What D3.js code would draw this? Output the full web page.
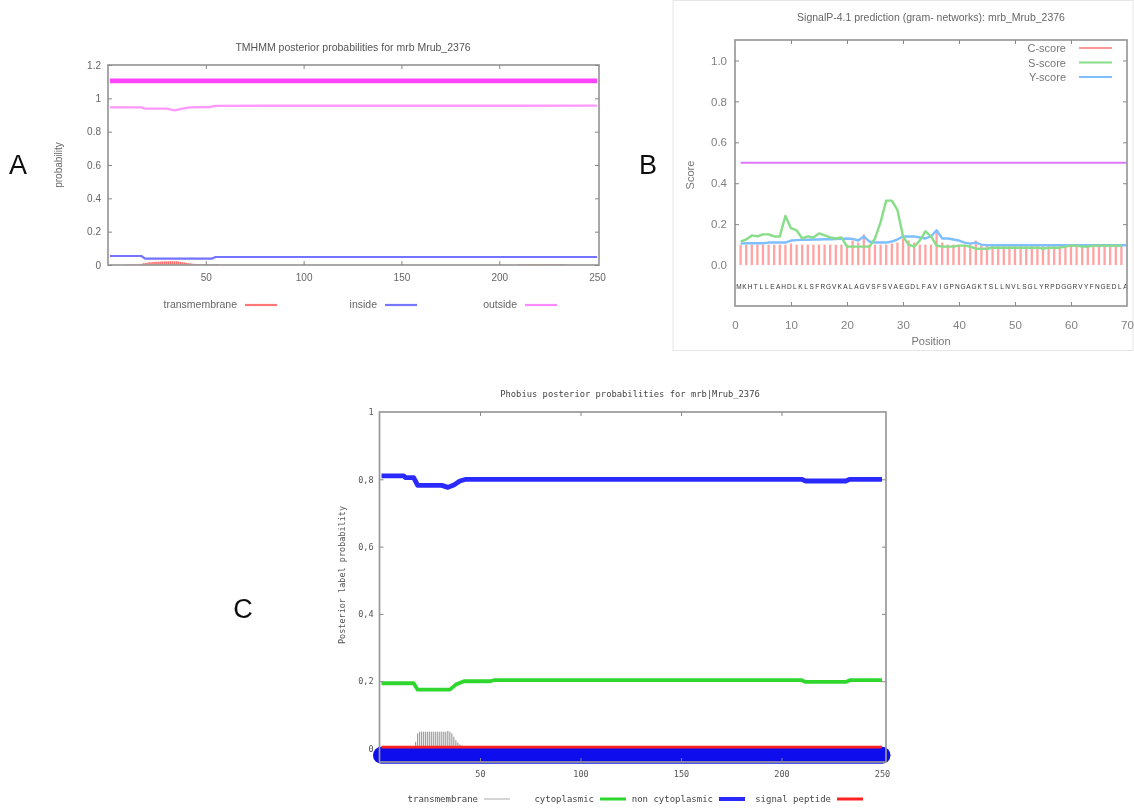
<!DOCTYPE html>
<html>
<head>
<meta charset="utf-8">
<script src="https://cdn.jsdelivr.net/npm/d3@7"></script>
<style>
body { margin: 0; background: #fff; }
svg { display: block; }
</style>
</head>
<body>
<svg width="1134" height="809"></svg>
<script>
// ---- panel A : TMHMM ----
var tmXTicks = [50, 100, 150, 200, 250];
var tmYTicks = [0, 0.2, 0.4, 0.6, 0.8, 1, 1.2];
var tmTopology = [[1, 1.105], [250, 1.105]];
var tmOutside = [[1, 0.946], [17, 0.946], [19, 0.938], [30, 0.938], [34, 0.928], [38, 0.938], [42, 0.946], [52, 0.948], [55, 0.955], [250, 0.956]];
var tmInside = [[1, 0.054], [17, 0.054], [19, 0.038], [53, 0.038], [55, 0.048], [250, 0.048]];
var tmTransStart = 10;
var tmTransVals = [0.003, 0.003, 0.003, 0.003, 0.003, 0.003, 0.003, 0.003,
  0.01, 0.012, 0.014, 0.016, 0.017,
  0.018, 0.019, 0.02, 0.02, 0.021, 0.021,
  0.022, 0.022, 0.022, 0.023, 0.023, 0.022, 0.022, 0.021,
  0.019, 0.017, 0.015, 0.013, 0.011, 0.01,
  0.008, 0.007, 0.006, 0.006, 0.005, 0.005,
  0.004, 0.004, 0.004, 0.004, 0.004, 0.004, 0.004, 0.004];
var tmTransStart2 = 210;
var tmTransVals2 = [0.004, 0.004, 0.004, 0.004, 0.004, 0.004, 0.004, 0.004, 0.004, 0.004, 0.004, 0.004, 0.004,
  0.004, 0.004, 0.004, 0.004, 0.004, 0.004, 0.004, 0.004, 0.004, 0.004, 0.004, 0.004];
var tmLegend = ["transmembrane", "inside", "outside"];

// ---- panel B : SignalP ----
var spXTicks = [0, 10, 20, 30, 40, 50, 60, 70];
var spYTicks = [0, 0.2, 0.4, 0.6, 0.8, 1.0];
var spSequence = "MKHTLLEAHDLKLSFRGVKALAGVSFSVAEGDLFAVIGPNGAGKTSLLNVLSGLYRPDGGRVYFNGEDLA";
var spCScore = [0.098, 0.1, 0.1, 0.1, 0.1, 0.1, 0.1, 0.1, 0.1, 0.105,
  0.1, 0.1, 0.1, 0.1, 0.1, 0.1, 0.1, 0.1, 0.1, 0.1,
  0.12, 0.11, 0.15, 0.1, 0.1, 0.1, 0.1, 0.105, 0.11, 0.13,
  0.12, 0.11, 0.1, 0.1, 0.1, 0.17, 0.11, 0.1, 0.1, 0.1,
  0.1, 0.1, 0.12, 0.1, 0.095, 0.095, 0.095, 0.095, 0.095, 0.095,
  0.095, 0.095, 0.095, 0.095, 0.095, 0.095, 0.095, 0.095, 0.095, 0.1,
  0.1, 0.095, 0.095, 0.095, 0.095, 0.095, 0.095, 0.095, 0.095];
var spSScore = [0.115, 0.125, 0.145, 0.14, 0.15, 0.15, 0.14, 0.14, 0.24, 0.18,
  0.17, 0.13, 0.14, 0.135, 0.155, 0.145, 0.135, 0.13, 0.135, 0.09,
  0.09, 0.09, 0.09, 0.09, 0.13, 0.21, 0.315, 0.315, 0.27, 0.14,
  0.1, 0.09, 0.12, 0.165, 0.14, 0.095, 0.09, 0.09, 0.09, 0.095,
  0.095, 0.09, 0.08, 0.08, 0.08, 0.085, 0.085, 0.085, 0.085, 0.085,
  0.085, 0.085, 0.085, 0.085, 0.08, 0.085, 0.085, 0.085, 0.09, 0.095,
  0.095, 0.09, 0.09, 0.095, 0.095, 0.095, 0.095, 0.095, 0.095];
var spYScore = [0.105, 0.107, 0.107, 0.107, 0.107, 0.11, 0.11, 0.11, 0.11, 0.12,
  0.122, 0.123, 0.124, 0.125, 0.125, 0.126, 0.126, 0.127, 0.128, 0.13,
  0.128, 0.12, 0.14, 0.115, 0.11, 0.11, 0.11, 0.115, 0.125, 0.14,
  0.14, 0.14, 0.135, 0.13, 0.14, 0.17, 0.13, 0.13, 0.125, 0.12,
  0.11, 0.105, 0.11, 0.1, 0.097, 0.097, 0.097, 0.097, 0.097, 0.097,
  0.097, 0.097, 0.097, 0.097, 0.097, 0.097, 0.097, 0.097, 0.097, 0.097,
  0.097, 0.097, 0.097, 0.097, 0.097, 0.097, 0.097, 0.097, 0.097, 0.097];
var spCutoff = [[1, 0.5], [70, 0.5]];
var spLegend = ["C-score", "S-score", "Y-score"];

// ---- panel C : Phobius ----
var phXTicks = [50, 100, 150, 200, 250];
var phYTicks = [0, 0.2, 0.4, 0.6, 0.8, 1];
var phNonCyto = [[1, 0.81], [12, 0.81], [13, 0.805], [17, 0.805], [19, 0.782], [31, 0.782], [34, 0.776], [37, 0.783], [40, 0.795], [43, 0.8], [210, 0.8], [212, 0.795], [232, 0.795], [234, 0.8], [250, 0.8]];
var phCyto = [[1, 0.194], [17, 0.194], [19, 0.175], [35, 0.175], [38, 0.19], [42, 0.2], [55, 0.2], [57, 0.203], [210, 0.203], [212, 0.198], [232, 0.198], [234, 0.203], [250, 0.203]];
var phSignal = [[1, 0.004], [250, 0.004]];
var phTopology = [[1, -0.02], [250, -0.02]];
var phTransStart = 17;
var phTransVals = [0.005, 0.02, 0.045,
  0.05, 0.05, 0.05, 0.05, 0.05, 0.05, 0.05, 0.05, 0.05, 0.05, 0.05, 0.05, 0.05, 0.05,
  0.052, 0.05, 0.045, 0.035, 0.025, 0.018, 0.012, 0.009, 0.007, 0.006, 0.005,
  0.004, 0.004, 0.004, 0.004, 0.004, 0.004, 0.004, 0.004, 0.004, 0.004, 0.004, 0.004];
var phTransStart2 = 210;
var phTransVals2 = [0.005, 0.005, 0.005, 0.005, 0.005, 0.005, 0.005, 0.005, 0.005, 0.005, 0.005, 0.005,
  0.005, 0.005, 0.005, 0.005, 0.005, 0.005, 0.005, 0.005, 0.005, 0.005, 0.005];
var phLegend = ["transmembrane", "cytoplasmic", "non cytoplasmic", "signal peptide"];

var svg = d3.select("svg");
svg.append("defs").append("filter").attr("id", "soft")
  .append("feGaussianBlur").attr("stdDeviation", 0.55);
var root = svg.append("g").attr("filter", "url(#soft)");

var sans = "'Liberation Sans', Arial, sans-serif";
var mono = "'DejaVu Sans Mono', 'Liberation Mono', monospace";

function styleAxis(sel, font, size, color) {
  sel.select(".domain").remove();
  sel.selectAll("line").attr("stroke", "#888");
  sel.selectAll("text").style("font-family", font).style("font-size", size + "px").attr("fill", color);
}

// draws box + ticks on all four sides
function frame(g, x, y, o) {
  var x0 = x.range()[0], x1 = x.range()[1], y0 = y.range()[0], y1 = y.range()[1];
  g.append("rect").attr("x", x0).attr("y", y1).attr("width", x1 - x0).attr("height", y0 - y1)
    .attr("fill", "none").attr("stroke", "#999").attr("stroke-width", 1.7);
  g.append("g").attr("transform", "translate(0," + y0 + ")")
    .call(d3.axisBottom(x).tickValues(o.xTicks).tickFormat(o.xFormat).tickSizeInner(-4).tickSizeOuter(0).tickPadding(o.xPad))
    .call(styleAxis, o.font, o.size, o.color);
  g.append("g").attr("transform", "translate(0," + y1 + ")")
    .call(d3.axisTop(x).tickValues(o.xMarks).tickFormat("").tickSizeInner(-4).tickSizeOuter(0))
    .call(styleAxis, o.font, o.size, o.color);
  g.append("g").attr("transform", "translate(" + x0 + ",0)")
    .call(d3.axisLeft(y).tickValues(o.yTicks).tickFormat(o.yFormat).tickSizeInner(-4).tickSizeOuter(0).tickPadding(o.yPad))
    .call(styleAxis, o.font, o.size, o.color);
  g.append("g").attr("transform", "translate(" + x1 + ",0)")
    .call(d3.axisRight(y).tickValues(o.yTicks).tickFormat("").tickSizeInner(-4).tickSizeOuter(0))
    .call(styleAxis, o.font, o.size, o.color);
  // hide the marks that sit on the corners
  g.selectAll(".tick line").filter(function (d) { return o.noMark && o.noMark.indexOf(d) >= 0; }).remove();
}

function drawLine(g, x, y, data, color, width, cap) {
  g.append("path").datum(data)
    .attr("fill", "none").attr("stroke", color).attr("stroke-width", width)
    .attr("stroke-linecap", cap || "butt").attr("stroke-linejoin", "round")
    .attr("d", d3.line().x(function (d) { return x(d[0]); }).y(function (d) { return y(d[1]); }));
}

function impulses(start, vals) {
  return vals.map(function (v, i) { return [start + i, v]; });
}

function drawImpulses(g, x, y, data, color, width) {
  g.selectAll(null).data(data).enter().append("line")
    .attr("x1", function (d) { return x(d[0]); }).attr("x2", function (d) { return x(d[0]); })
    .attr("y1", y(0)).attr("y2", function (d) { return y(d[1]); })
    .attr("stroke", color).attr("stroke-width", width);
}

// panel letters
[["A", 18, 174], ["B", 648, 174], ["C", 243, 618]].forEach(function (p) {
  root.append("text").attr("x", p[1]).attr("y", p[2]).attr("text-anchor", "middle")
    .style("font-family", sans).style("font-size", "27px").attr("fill", "#111").text(p[0]);
});

// ================= panel A =================
(function () {
  var g = root.append("g");
  var x = d3.scaleLinear().domain([0, 251]).range([108, 599]);
  var y = d3.scaleLinear().domain([0, 1.2]).range([265, 65]);

  drawImpulses(g, x, y, impulses(tmTransStart, tmTransVals), "#ff6666", 1.5);
  drawImpulses(g, x, y, impulses(tmTransStart2, tmTransVals2), "#ff6666", 1.5);
  drawLine(g, x, y, tmInside, "#7373ff", 2.2);
  drawLine(g, x, y, tmOutside, "#ff99ff", 2.4);
  drawLine(g, x, y, tmTopology, "#ff44ff", 4.8);

  frame(g, x, y, {
    xTicks: tmXTicks, xMarks: [50, 100, 150, 200], xFormat: d3.format("d"), xPad: 9,
    yTicks: tmYTicks, yFormat: function (d) { return String(d); }, yPad: 7,
    font: sans, size: 10, color: "#666", noMark: [250]
  });

  g.append("text").attr("x", 353).attr("y", 51).attr("text-anchor", "middle")
    .style("font-family", sans).style("font-size", "10.5px").attr("fill", "#555")
    .text("TMHMM posterior probabilities for mrb Mrub_2376");
  g.append("text").attr("transform", "translate(62,165) rotate(-90)").attr("text-anchor", "middle")
    .style("font-family", sans).style("font-size", "10px").attr("fill", "#666").text("probability");

  var legCol = ["#ff7777", "#7777ff", "#ff88ff"];
  var legEnd = [237, 377, 517];
  tmLegend.forEach(function (t, i) {
    g.append("text").attr("x", legEnd[i]).attr("y", 308).attr("text-anchor", "end")
      .style("font-family", sans).style("font-size", "10.5px").attr("fill", "#666").text(t);
    g.append("line").attr("x1", legEnd[i] + 8).attr("x2", legEnd[i] + 40).attr("y1", 305).attr("y2", 305)
      .attr("stroke", legCol[i]).attr("stroke-width", 2.2);
  });
})();

// ================= panel B =================
(function () {
  var g = root.append("g");
  g.append("rect").attr("x", 673).attr("y", 0.5).attr("width", 460).attr("height", 350)
    .attr("fill", "none").attr("stroke", "#e6e6e6");
  var x = d3.scaleLinear().domain([0, 70]).range([735, 1127]);
  var y = d3.scaleLinear().domain([-0.2, 1.1]).range([306, 40]);

  drawLine(g, x, y, spCutoff, "#dd77ff", 1.8);
  drawImpulses(g, x, y, spCScore.map(function (v, i) { return [i + 1, v]; }), "#ffa3a3", 2.3);
  drawLine(g, x, y, spYScore.map(function (v, i) { return [i + 1, v]; }), "#7fbfff", 2.4);
  drawLine(g, x, y, spSScore.map(function (v, i) { return [i + 1, v]; }), "#88dd88", 2.4);

  g.selectAll(".aa").data(spSequence.split("")).enter().append("text")
    .attr("x", function (d, i) { return x(i + 0.7); }).attr("y", 289).attr("text-anchor", "middle")
    .style("font-family", sans).style("font-size", "6.5px").attr("fill", "#333").text(function (d) { return d; });

  frame(g, x, y, {
    xTicks: spXTicks, xMarks: [10, 20, 30, 40, 50, 60], xFormat: d3.format("d"), xPad: 15,
    yTicks: spYTicks, yFormat: d3.format(".1f"), yPad: 8,
    font: sans, size: 11.5, color: "#808080", noMark: [0, 70]
  });

  g.append("text").attr("x", 931).attr("y", 21).attr("text-anchor", "middle")
    .style("font-family", sans).style("font-size", "10.5px").attr("fill", "#666")
    .text("SignalP-4.1 prediction (gram- networks): mrb_Mrub_2376");
  g.append("text").attr("x", 931).attr("y", 345).attr("text-anchor", "middle")
    .style("font-family", sans).style("font-size", "11px").attr("fill", "#777").text("Position");
  g.append("text").attr("transform", "translate(694,175) rotate(-90)").attr("text-anchor", "middle")
    .style("font-family", sans).style("font-size", "11px").attr("fill", "#777").text("Score");

  var legCol = ["#ff9999", "#88dd88", "#7fbfff"];
  spLegend.forEach(function (t, i) {
    var yy = 48 + i * 14.5;
    g.append("text").attr("x", 1066).attr("y", yy + 4).attr("text-anchor", "end")
      .style("font-family", sans).style("font-size", "11px").attr("fill", "#777").text(t);
    g.append("line").attr("x1", 1079).attr("x2", 1112).attr("y1", yy).attr("y2", yy)
      .attr("stroke", legCol[i]).attr("stroke-width", 2.2);
  });
})();

// ================= panel C =================
(function () {
  var g = root.append("g");
  var x = d3.scaleLinear().domain([0, 252]).range([379.5, 886]);
  var y = d3.scaleLinear().domain([-0.04, 1]).range([762, 412]);

  drawImpulses(g, x, y, impulses(phTransStart, phTransVals), "#8a8a8a", 1);
  drawImpulses(g, x, y, impulses(phTransStart2, phTransVals2), "#8a8a8a", 1);
  drawLine(g, x, y, phTopology, "#0a0aee", 17, "round");
  drawLine(g, x, y, phSignal, "#ff2020", 2.8);
  drawLine(g, x, y, phCyto, "#2ed62e", 3.8);
  drawLine(g, x, y, phNonCyto, "#2b2bff", 4.8);

  frame(g, x, y, {
    xTicks: phXTicks, xMarks: [50, 100, 150, 200], xFormat: d3.format("d"), xPad: 9,
    yTicks: phYTicks, yFormat: function (d) { return String(d).replace(".", ","); }, yPad: 6,
    font: mono, size: 8.5, color: "#555", noMark: [250]
  });
  // y tick marks only between the end values
  g.selectAll(".tick line").filter(function (d) { return d === 0 || d === 1; }).remove();

  g.append("text").attr("x", 630).attr("y", 397).attr("text-anchor", "middle")
    .style("font-family", mono).style("font-size", "8.8px").attr("fill", "#444")
    .text("Phobius posterior probabilities for mrb|Mrub_2376");
  g.append("text").attr("transform", "translate(345,575) rotate(-90)").attr("text-anchor", "middle")
    .style("font-family", mono).style("font-size", "8.5px").attr("fill", "#555").text("Posterior label probability");

  var legCol = ["#aaaaaa", "#2ed62e", "#2b2bff", "#ff2020"];
  var legW = [1, 3, 4, 3];
  var legEnd = [478, 594, 713, 831];
  phLegend.forEach(function (t, i) {
    g.append("text").attr("x", legEnd[i]).attr("y", 802).attr("text-anchor", "end")
      .style("font-family", mono).style("font-size", "9px").attr("fill", "#444").text(t);
    g.append("line").attr("x1", legEnd[i] + 6).attr("x2", legEnd[i] + 32).attr("y1", 799).attr("y2", 799)
      .attr("stroke", legCol[i]).attr("stroke-width", legW[i]);
  });
})();
</script>
</body>
</html>
